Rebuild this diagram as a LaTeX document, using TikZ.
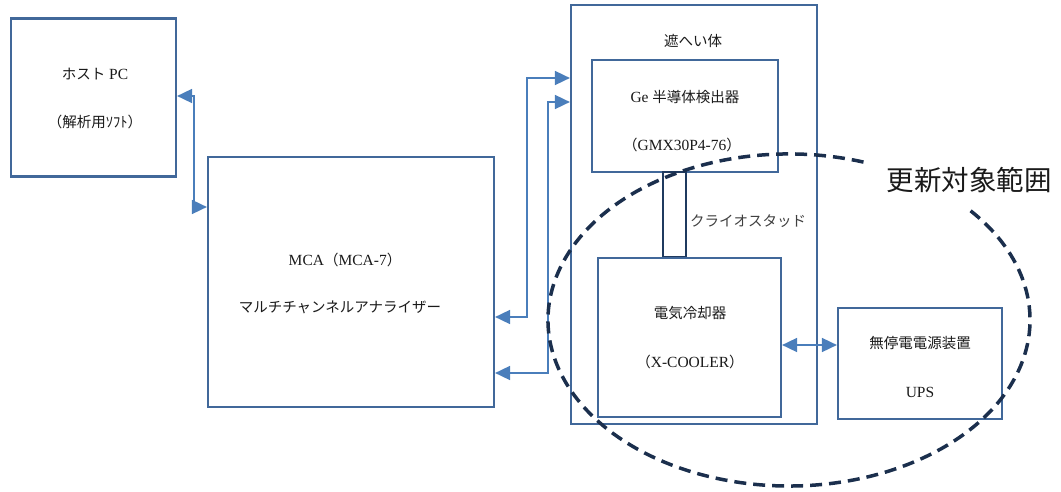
\documentclass[tikz,border=0pt]{standalone}
\usepackage{fontspec}
\setmainfont{Liberation Serif}
\newfontfamily\cjk{Noto Sans CJK JP}
\usetikzlibrary{arrows.meta}
\definecolor{boxc}{HTML}{41689A}
\definecolor{arrc}{HTML}{4A7EBB}
\definecolor{navy}{HTML}{1F3A5F}
\definecolor{ellc}{HTML}{1B2F4D}
\definecolor{txt}{HTML}{1A1A1A}
\begin{document}
\begin{tikzpicture}[x=1pt,y=-1pt,
  box/.style={draw=boxc,line width=2.2pt,inner sep=0pt,fill=white},
  lbl/.style={text=txt,font=\fontsize{15.5}{17}\selectfont,inner sep=0pt,anchor=center},
  biarr/.style={draw=arrc,line width=1.7pt,{Triangle[length=15pt,width=14pt]}-{Triangle[length=15pt,width=14pt]}}]
\useasboundingbox (0,0) rectangle (1061,492);
% boxes
\node[box,minimum width=165pt,minimum height=158pt] (host) at (93.5,97.5) {};
\node[box,minimum width=286pt,minimum height=250pt] (mca) at (351,282) {};
\node[box,minimum width=246pt,minimum height=419pt] (shield) at (694,214.5) {};
\node[box,minimum width=186pt,minimum height=112pt] (ge) at (685,116) {};
\node[box,draw=navy,minimum width=23pt,minimum height=85pt] (cryo) at (674.5,214.5) {};
\node[box,minimum width=183pt,minimum height=159pt] (cool) at (689.5,337.5) {};
\node[box,minimum width=164pt,minimum height=111pt] (ups) at (920,363.5) {};
% texts
\node[lbl] (t1) at (95,74) {{\cjk\fontsize{14.5}{16}\selectfont ホスト} PC};
\node[lbl] (t2) at (95,122) {{\cjk\fontsize{14.5}{16}\selectfont （解析用ｿﾌﾄ）}};
\node[lbl] (t3) at (345,260) {MCA{\cjk\fontsize{14.5}{16}\selectfont （}MCA-7{\cjk\fontsize{14.5}{16}\selectfont ）}};
\node[lbl] (t4) at (340,307) {\cjk\fontsize{14.5}{16}\selectfont マルチチャンネルアナライザー};
\node[lbl] (t5) at (693,41) {\cjk\fontsize{14.5}{16}\selectfont 遮へい体};
\node[lbl] (t6) at (685,97) {Ge {\cjk\fontsize{14.5}{16}\selectfont 半導体検出器}};
\node[lbl] (t7) at (682,145) {{\cjk\fontsize{14.5}{16}\selectfont （}GMX30P4-76{\cjk\fontsize{14.5}{16}\selectfont ）}};
\node[lbl,anchor=west,text=black!75] (t8) at (690,221) {\cjk\fontsize{14.5}{16}\selectfont クライオスタッド};
\node[lbl] (t9) at (690,313) {\cjk\fontsize{14.5}{16}\selectfont 電気冷却器};
\node[lbl] (t10) at (690,362) {{\cjk\fontsize{14.5}{16}\selectfont （}X-COOLER{\cjk\fontsize{14.5}{16}\selectfont ）}};
\node[lbl] (t11) at (920,343) {\cjk\fontsize{14.5}{16}\selectfont 無停電電源装置};
\node[lbl] (t12) at (920,392) {UPS};
\node[lbl,font=\fontsize{27.5}{30}\selectfont\cjk] (t13) at (969,180) {更新対象範囲};
% connectors
\coordinate (c1) at (194,96);
\coordinate (c2) at (194,207);
\draw[biarr] (host.east |- c1) -- (c1) -- (c2) -- (mca.west |- c2);
\coordinate (o1) at (527,78);
\coordinate (o2) at (527,317);
\draw[biarr] (shield.west |- o1) -- (o1) -- (o2) -- (mca.east |- o2);
\coordinate (i1) at (548,102);
\coordinate (i2) at (548,373);
\draw[biarr] (shield.west |- i1) -- (i1) -- (i2) -- (mca.east |- i2);
\coordinate (u1) at (800,345);
\draw[biarr] (cool.east |- u1) -- (ups.west |- u1);
% update-range ellipse
\coordinate (ec) at (789,320);
\draw[ellc,line width=3.5pt,dash pattern=on 12pt off 7pt]
  ([shift={(74.5,-157.9)}]ec) arc[start angle=72,end angle=402,x radius=241pt,y radius=166pt];
\end{tikzpicture}
\end{document}
